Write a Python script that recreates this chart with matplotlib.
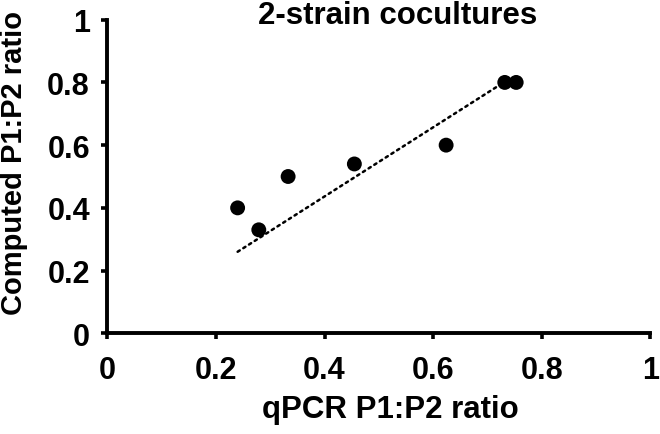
import matplotlib
matplotlib.use("Agg")
import matplotlib.pyplot as plt

# qPCR-measured vs computed P1:P2 ratio, 2-strain cocultures
qpcr_ratio = [0.24, 0.279, 0.333, 0.455, 0.624, 0.732, 0.753]
computed_ratio = [0.40, 0.33, 0.50, 0.54, 0.60, 0.80, 0.80]

# dotted trend line end points
trend_x = [0.24, 0.73]
trend_y = [0.26, 0.80]

ticks = [0, 0.2, 0.4, 0.6, 0.8, 1]
tick_labels = ["0", "0.2", "0.4", "0.6", "0.8", "1"]

plt.rcParams["font.family"] = ["Liberation Sans", "DejaVu Sans"]
plt.rcParams["font.weight"] = "bold"

fig = plt.figure(figsize=(6.6, 4.35), dpi=100)
ax = fig.add_axes([107.3 / 660, 0.2315, 543 / 660, 0.7209])

ax.plot(trend_x, trend_y, color="black", linewidth=1.8,
        linestyle=(0, (1, 1.7)), dash_capstyle="round", zorder=2)
ax.scatter(qpcr_ratio, computed_ratio, s=115, color="black",
           edgecolors="none", zorder=3)

ax.set_xlim(0, 1)
ax.set_ylim(0, 1)
ax.set_xticks(ticks)
ax.set_xticklabels(tick_labels)
ax.set_yticks(ticks)
ax.set_yticklabels(tick_labels)

for side in ["top", "right"]:
    ax.spines[side].set_visible(False)
for side in ["left", "bottom"]:
    ax.spines[side].set_linewidth(2.8)
ax.tick_params(axis="both", direction="out", length=4.5, width=2.6,
               labelsize=22)
ax.tick_params(axis="x", pad=11)
ax.tick_params(axis="y", pad=8)
for lab in ax.get_xticklabels() + ax.get_yticklabels():
    lab.set_fontweight("bold")

fig.text(398 / 660, 1 - 16 / 435, "2-strain cocultures", ha="center",
         va="center", fontsize=22.5, fontweight="bold")
fig.text(390 / 660, 1 - 410 / 435, "qPCR P1:P2 ratio", ha="center",
         va="center", fontsize=22.5, fontweight="bold")
fig.text(14 / 660, 1 - 163 / 435, "Computed P1:P2 ratio", ha="center",
         va="center", rotation=90, fontsize=21, fontweight="bold")

fig.savefig("out.png", dpi=100)
